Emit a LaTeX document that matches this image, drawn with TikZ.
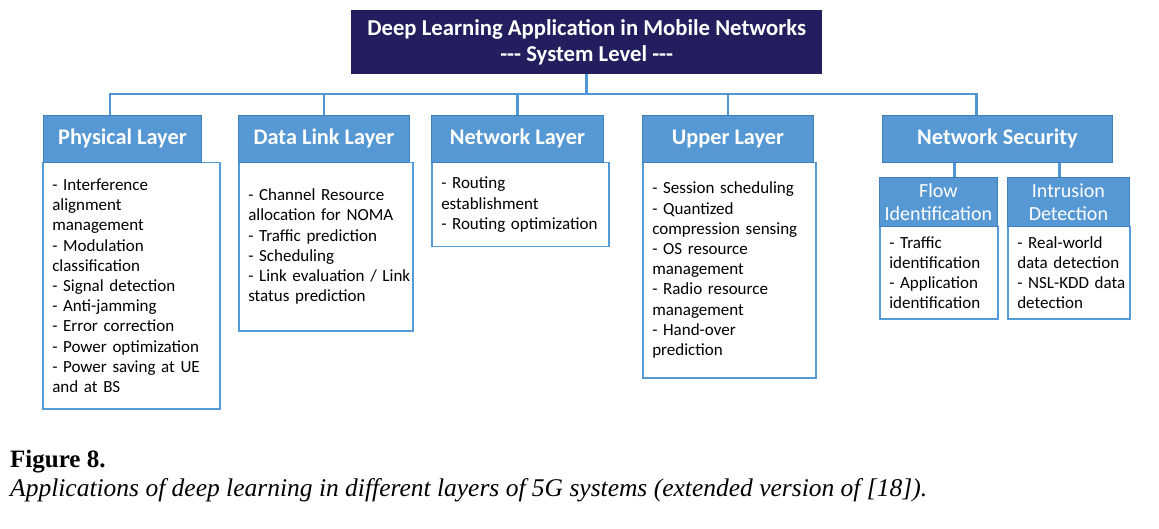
\documentclass[tikz,border=0pt]{standalone}
\usepackage{fontspec}
\setmainfont{Carlito}
\newfontfamily\capfont{Liberation Serif}

\definecolor{navy}{RGB}{35,31,95}
\definecolor{hdrblue}{RGB}{86,152,212}
\definecolor{hdredge}{RGB}{66,128,188}
\definecolor{linkblue}{RGB}{78,150,214}
\definecolor{boxedge}{RGB}{84,156,216}

% left indent for the item lists inside the boxes
\newcommand\listindent{\leftskip=9.5pt\relax}

\begin{document}
\begin{tikzpicture}[x=1pt,y=-1pt,
  titlebox/.style={fill=navy, text=white, align=center, inner sep=0pt,
    minimum width=471pt, minimum height=64pt, anchor=north west,
    font=\fontsize{22.7}{25.5}\selectfont\bfseries},
  layerhead/.style={fill=hdrblue, draw=hdredge, line width=0.8pt, text=white,
    inner sep=0pt, minimum height=47pt, anchor=north west,
    font=\fontsize{22.3}{25}\selectfont\bfseries},
  subhead/.style={fill=hdrblue, draw=hdredge, line width=0.8pt, text=white,
    align=center, inner sep=0pt, minimum height=49pt, anchor=north west,
    font=\fontsize{20}{23}\selectfont},
  itembox/.style={draw=boxedge, line width=1.5pt, fill=white, align=left,
    inner xsep=0pt, inner ysep=0pt, anchor=north west,
    font=\fontsize{17}{20.2}\selectfont},
  conn/.style={draw=linkblue, line width=2.6pt, line join=miter}
]
\useasboundingbox (0,0) rectangle (1159,529);

% title
\node[titlebox] (title) at (351,10)
  {Deep Learning Application in Mobile Networks\\-{}-{}- System Level -{}-{}-};

% item lists
\node[itembox, text width=177pt, minimum height=246pt] (physitems) at (42,162)
  {\listindent - Interference\\alignment\\management\\- Modulation\\classification\\- Signal detection\\- Anti-jamming\\- Error correction\\- Power optimization\\- Power saving at UE\\and at BS\par};
\node[itembox, text width=174pt, minimum height=168pt] (linkitems) at (238,162)
  {\listindent - Channel Resource\\allocation for NOMA\\- Traffic prediction\\- Scheduling\\- Link evaluation / Link\\status prediction\par};
\node[itembox, text width=177pt, minimum height=84pt] (netitems) at (431,162)
  {\listindent - Routing\\establishment\\- Routing optimization\par};
\node[itembox, text width=173pt, minimum height=215pt] (upperitems) at (642,162)
  {\listindent - Session scheduling\\- Quantized\\compression sensing\\- OS resource\\management\\- Radio resource\\management\\- Hand-over\\prediction\par};
\node[itembox, text width=118pt, minimum height=92pt] (flowitems) at (879,226)
  {\listindent - Traffic\\identification\\- Application\\identification\par};
\node[itembox, text width=122pt, minimum height=92pt] (intritems) at (1007,226)
  {\listindent - Real-world\\data detection\\- NSL-KDD data\\detection\par};

% layer headers
\node[layerhead, minimum width=158pt] (physhead) at (43,115) {Physical Layer};
\node[layerhead, minimum width=171pt] (linkhead) at (238,115) {Data Link Layer};
\node[layerhead, minimum width=172pt] (nethead) at (431,115) {Network Layer};
\node[layerhead, minimum width=171pt] (upperhead) at (642,115) {Upper Layer};
\node[layerhead, minimum width=230pt] (sechead) at (882,115) {Network Security};
\node[subhead, minimum width=118pt] (flowhead) at (879,177) {Flow\\Identification};
\node[subhead, minimum width=122pt] (intrhead) at (1007,177) {Intrusion\\Detection};

% connectors
\coordinate (bus) at (587,94);
\draw[conn] (title.south) -- (title.south |- bus);
\draw[conn] ([xshift=-12.5pt]physhead.north) -- ([xshift=-12.5pt]physhead.north |- bus)
  -- ([xshift=-21pt]sechead.north |- bus) -- ([xshift=-21pt]sechead.north);
\draw[conn] (linkhead.north) -- (linkhead.north |- bus);
\draw[conn] (nethead.north) -- (nethead.north |- bus);
\draw[conn] (upperhead.north) -- (upperhead.north |- bus);
\draw[conn] ([xshift=16pt]flowhead.north) -- ([xshift=16pt]flowhead.north |- sechead.south);
\draw[conn] ([xshift=-9pt]intrhead.north) -- ([xshift=-9pt]intrhead.north |- sechead.south);

% caption
\node[anchor=base west, inner sep=0pt, font=\capfont\bfseries\fontsize{25}{29}\selectfont] (figlabel) at (10,467.5) {Figure 8.};
\node[anchor=base west, inner sep=0pt, font=\capfont\itshape\fontsize{25.5}{30}\selectfont] (figcaption) at (10,496.5)
  {Applications of deep learning in different layers of 5G systems (extended version of [18]).};
\end{tikzpicture}
\end{document}
